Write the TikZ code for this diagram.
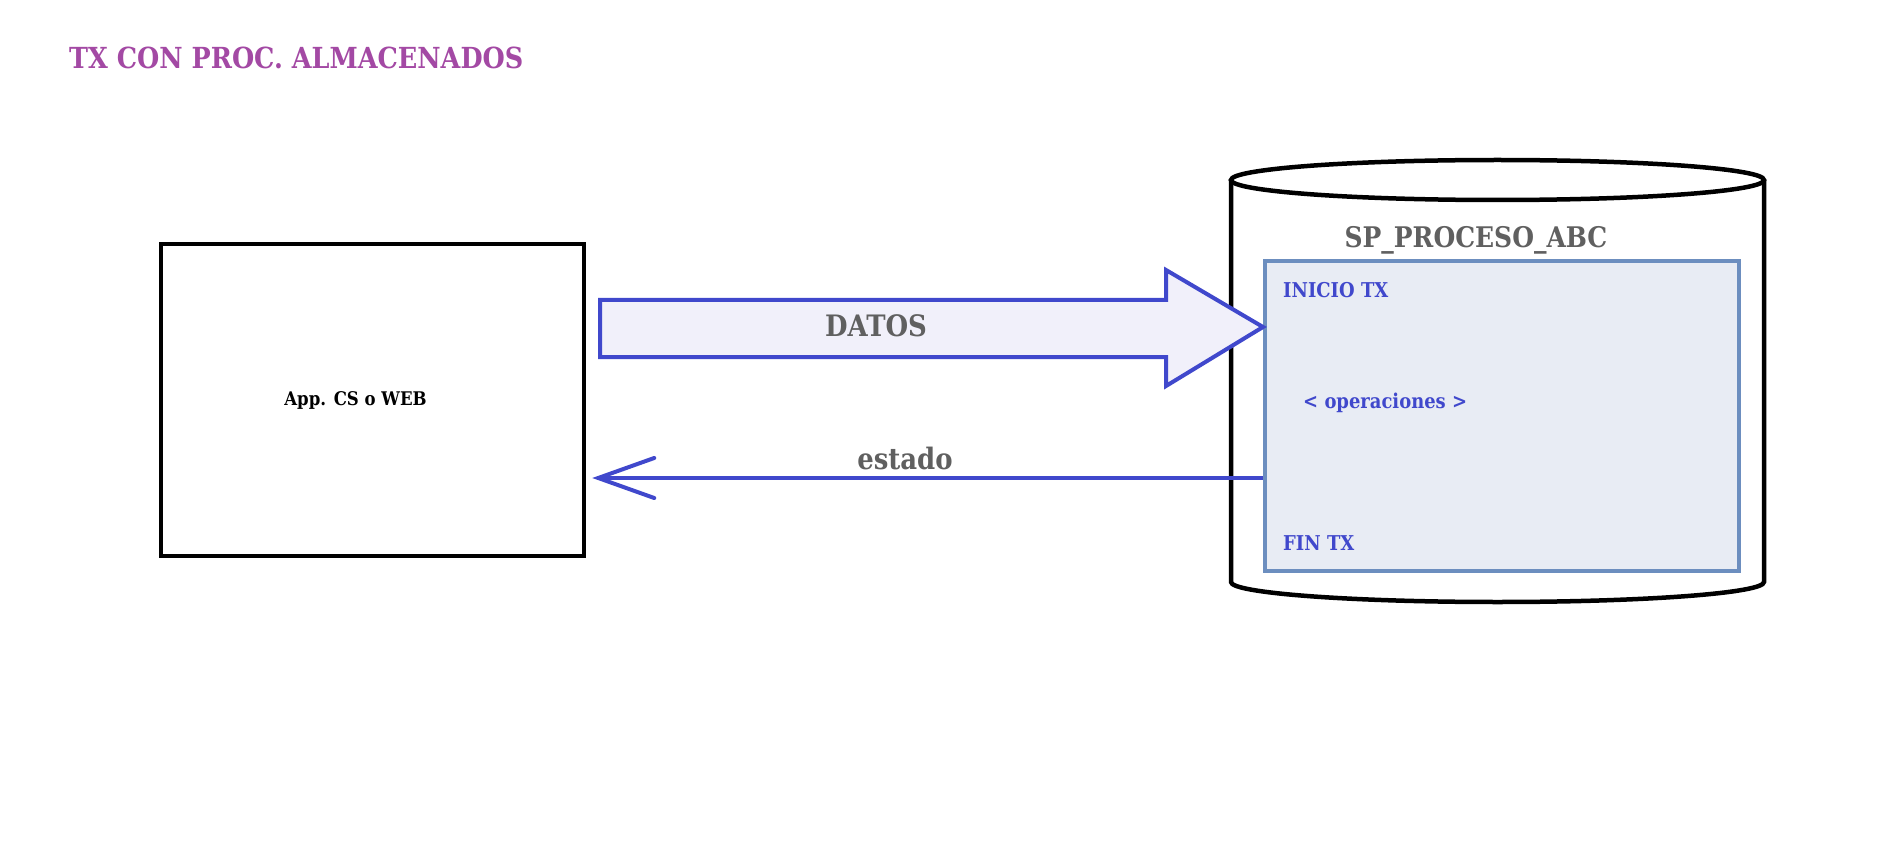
\documentclass[tikz,border=0pt]{standalone}
\usepackage{fontspec}
\setmainfont{DejaVu Serif}[FakeStretch=0.88]
\usetikzlibrary{arrows.meta}

\definecolor{titlepurple}{RGB}{163,73,164}
\definecolor{linkblue}{RGB}{64,72,204}
\definecolor{textgray}{RGB}{96,96,96}
\definecolor{procedge}{RGB}{108,142,191}
\definecolor{procfill}{RGB}{232,236,244}
\definecolor{arrowfill}{RGB}{241,240,250}

\tikzset{
	appbox/.style={draw, line width=4.5pt, minimum width=423pt, minimum height=312pt},
	procbox/.style={draw=procedge, fill=procfill, line width=4pt, minimum width=474pt, minimum height=310pt},
	bigarrow/.style={draw=linkblue, fill=arrowfill, line width=4pt, line join=miter},
	backarrow/.style={draw=linkblue, line width=4pt, {Straight Barb[length=56pt,width=40pt,line cap=round]}-},
	txlabel/.style={anchor=west, inner sep=0pt, text=linkblue, font=\bfseries\fontsize{20.4}{24}\selectfont},
}

\begin{document}
\begin{tikzpicture}[x=1pt, y=-1pt]
	\useasboundingbox (0,0) rectangle (1887,842);
	
	% Title
	\node[anchor=west, inner sep=0pt, text=titlepurple, font=\bfseries\fontsize{29}{34}\selectfont] (title) at (69,58) {TX CON PROC. ALMACENADOS};
	
	% Application box
	\node[appbox, label={[xshift=-17pt, font=\bfseries\fontsize{18.8}{22}\selectfont]center:App. CS o WEB}] (app) at (372.5,400) {};
	
	% Database cylinder
	\draw[line width=4.5pt] (1497.5,180) ellipse [x radius=266.5, y radius=20];
	\draw[line width=4.5pt] (1231,180) -- (1231,582) arc[start angle=180, end angle=0, x radius=266.5, y radius=20] -- (1764,180);
	\node[text=textgray, font=\bfseries\fontsize{28.4}{32}\selectfont] (spname) at (1476,240) {SP\_PROCESO\_ABC};
	
	% Stored procedure box
	\node[procbox] (proc) at (1502,416) {};
	\node[txlabel] (inicio) at (1283,290) {INICIO TX};
	\node[txlabel] (ops) at (1303,403) {< operaciones >};
	\node[txlabel] (fin) at (1283,543) {FIN TX};
	
	% DATOS arrow
	\draw[bigarrow] (proc.west |- 0,327) -- ++(-97,-57) -- ++(0,30) -- ++(-566,0) -- ++(0,57) -- ++(566,0) -- ++(0,29) -- cycle;
	\node[text=textgray, font=\bfseries\fontsize{29.5}{34}\selectfont] (datos) at (876,326) {DATOS};
	
	% estado arrow
	\draw[backarrow] ([xshift=6pt]app.east |- 0,478) -- (proc.west |- 0,478);
	\node[text=textgray, font=\bfseries\fontsize{29.5}{34}\selectfont] (estado) at (905,458) {estado};
	
\end{tikzpicture}
\end{document}
